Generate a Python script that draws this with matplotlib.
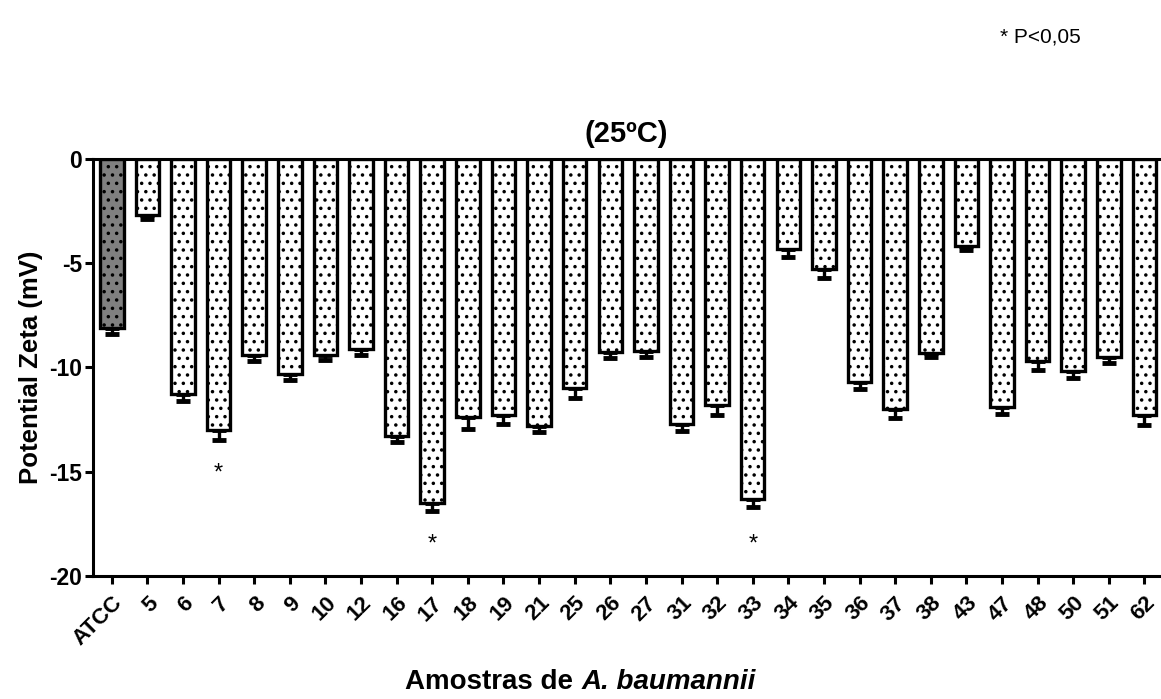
import numpy as np
import matplotlib
matplotlib.use("Agg")
import matplotlib.pyplot as plt

plt.rcParams["font.family"] = ["Liberation Sans", "DejaVu Sans"]
plt.rcParams["hatch.linewidth"] = 1.3
plt.rcParams["axes.unicode_minus"] = False

samples = ["ATCC", "5", "6", "7", "8", "9", "10", "12", "16", "17", "18", "19", "21", "25",
           "26", "27", "31", "32", "33", "34", "35", "36", "37", "38", "43", "47", "48",
           "50", "51", "62"]
zeta = [-8.1, -2.7, -11.3, -13.0, -9.4, -10.3, -9.4, -9.1, -13.3, -16.5, -12.4, -12.3,
        -12.8, -11.0, -9.25, -9.2, -12.7, -11.8, -16.3, -4.35, -5.3, -10.7, -12.0, -9.3,
        -4.2, -11.9, -9.7, -10.2, -9.5, -12.3]
sem = [0.3, 0.2, 0.3, 0.5, 0.3, 0.3, 0.25, 0.3, 0.3, 0.4, 0.55, 0.4, 0.3, 0.45, 0.3, 0.3,
       0.35, 0.5, 0.4, 0.35, 0.4, 0.35, 0.45, 0.2, 0.2, 0.35, 0.45, 0.3, 0.3, 0.45]
signif_idx = [3, 9, 18]
signif_y = [-15.1, -18.5, -18.5]

fig = plt.figure(figsize=(11.61, 6.99), dpi=100)
ax = fig.add_axes([0.080, 0.176, 0.918, 0.597])

x = np.arange(len(samples))
colors = ["#808080"] + ["white"] * (len(samples) - 1)
ax.bar(x, zeta, width=0.66, color=colors, edgecolor="black", linewidth=2.4,
       hatch="..", zorder=2)
ax.errorbar(x, zeta, yerr=[sem, [0] * len(sem)], fmt="none", ecolor="black",
            elinewidth=2.4, capsize=5, capthick=3.5, zorder=1)

for i, yy in zip(signif_idx, signif_y):
    ax.text(x[i], yy, "*", ha="center", va="center", fontsize=17)

ax.set_xlim(-0.53, 29.4)
ax.set_ylim(-20, 0)
ax.set_yticks([0, -5, -10, -15, -20])
ax.set_xticks(x)
ax.set_xticklabels(samples, rotation=45, ha="right", rotation_mode="anchor",
                   fontsize=16, fontweight="bold")
for lbl in ax.get_yticklabels():
    lbl.set_fontsize(16.5)
    lbl.set_fontweight("bold")

ax.spines["right"].set_visible(False)
for s in ["left", "bottom", "top"]:
    ax.spines[s].set_linewidth(2.2)
ax.tick_params(axis="both", width=2.2, length=6, direction="out")
ax.tick_params(axis="x", pad=6)
ax.tick_params(axis="y", pad=2)

ax.set_ylabel("Potential Zeta (mV)", fontsize=18.5, fontweight="bold", labelpad=4)
ax.set_title("(25ºC)", fontsize=21, fontweight="bold", pad=12)
fig.text(0.861, 0.947, "* P<0,05", fontsize=15, va="center")

# x label: plain bold part + bold italic species name, centred together
r = fig.canvas.get_renderer()
t1 = fig.text(0, 0.024, "Amostras de ", fontsize=20, fontweight="bold", va="center")
t2 = fig.text(0, 0.024, "A. baumannii", fontsize=20, fontweight="bold",
              style="italic", va="center")
w1 = t1.get_window_extent(r).width / fig.bbox.width
w2 = t2.get_window_extent(r).width / fig.bbox.width
x0 = 0.5 - (w1 + w2) / 2
t1.set_x(x0)
t2.set_x(x0 + w1)

fig.savefig("out.png", dpi=100)
